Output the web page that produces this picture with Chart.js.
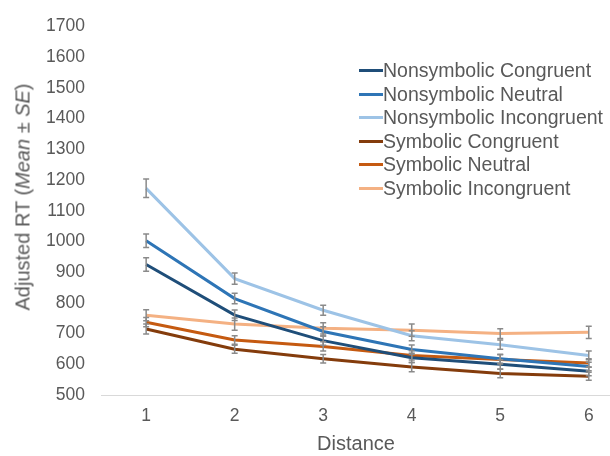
<!DOCTYPE html>
<html>
<head>
<meta charset="utf-8">
<script src="https://cdn.jsdelivr.net/npm/chart.js@4.4.1/dist/chart.umd.min.js"></script>
<style>
  body { margin: 0; background: #fff; font-family: "Liberation Sans", Arial, sans-serif; }
  #wrap { position: relative; width: 610px; height: 456px; }
  #ytitle {
    position: absolute; left: 23px; top: 197px;
    transform: translate(-50%, -50%) rotate(-90deg);
    white-space: nowrap; font-size: 20px; color: #595959;
  }
  #xtitle {
    position: absolute; left: 356px; top: 443px;
    transform: translate(-50%, -50%);
    white-space: nowrap; font-size: 20px; color: #595959;
  }
  #legend { position: absolute; left: 359px; top: 59px; font-size: 19.5px; color: #595959; }
  #legend div { display: flex; align-items: center; height: 23.5px; white-space: nowrap; }
  #legend span.sw { display: inline-block; width: 24px; height: 3px; margin-right: 0; }
</style>
</head>
<body>
<div id="wrap">
  <canvas id="rtChart" width="610" height="456"></canvas>
  <div id="ytitle">Adjusted RT (<i>Mean</i> ± <i>SE</i>)</div>
  <div id="xtitle">Distance</div>
  <div id="legend"></div>
</div>
<script>
// distance levels
const distances = [1, 2, 3, 4, 5, 6];

// means
const nonsymCongruent   = [925, 760, 677, 621, 600, 577];
const nonsymNeutral     = [1002, 814, 707, 648, 618, 593];
const nonsymIncongruent = [1173, 879, 776, 693, 664, 629];
const symCongruent      = [715, 649, 618, 591, 570, 561];
const symNeutral        = [737, 679, 658, 629, 616, 604];
const symIncongruent    = [760, 731, 717, 711, 700, 704];

// standard errors
const nonsymCongruentSE   = [22, 17, 15, 15, 15, 14];
const nonsymNeutralSE     = [22, 17, 15, 15, 15, 14];
const nonsymIncongruentSE = [30, 18, 16, 16, 15, 14];
const symCongruentSE      = [16, 13, 14, 15, 14, 13];
const symNeutralSE        = [15, 14, 15, 15, 15, 14];
const symIncongruentSE    = [18, 20, 18, 20, 16, 20];

const yTicks = [500, 600, 700, 800, 900, 1000, 1100, 1200, 1300, 1400, 1500, 1600, 1700];

const series = [
  { label: 'Nonsymbolic Congruent',   data: nonsymCongruent,   se: nonsymCongruentSE,   color: '#1f4e79' },
  { label: 'Nonsymbolic Neutral',     data: nonsymNeutral,     se: nonsymNeutralSE,     color: '#2e75b6' },
  { label: 'Nonsymbolic Incongruent', data: nonsymIncongruent, se: nonsymIncongruentSE, color: '#9dc3e6' },
  { label: 'Symbolic Congruent',      data: symCongruent,      se: symCongruentSE,      color: '#843c0c' },
  { label: 'Symbolic Neutral',        data: symNeutral,        se: symNeutralSE,        color: '#c55a11' },
  { label: 'Symbolic Incongruent',    data: symIncongruent,    se: symIncongruentSE,    color: '#f4b183' }
];

// error bars drawn from the scales
const errorBars = {
  id: 'errorBars',
  afterDatasetsDraw(chart) {
    const ctx = chart.ctx;
    const x = chart.scales.x, y = chart.scales.y;
    ctx.save();
    ctx.strokeStyle = '#8a8a8a';
    ctx.lineWidth = 1.5;
    series.forEach(s => {
      s.data.forEach((v, i) => {
        const px = x.getPixelForValue(distances[i]);
        const top = y.getPixelForValue(v + s.se[i]);
        const bot = y.getPixelForValue(v - s.se[i]);
        ctx.beginPath();
        ctx.moveTo(px, top); ctx.lineTo(px, bot);
        ctx.moveTo(px - 3, top); ctx.lineTo(px + 3, top);
        ctx.moveTo(px - 3, bot); ctx.lineTo(px + 3, bot);
        ctx.stroke();
      });
    });
    ctx.restore();
  }
};

new Chart(document.getElementById('rtChart'), {
  type: 'line',
  data: {
    datasets: series.map(s => ({
      label: s.label,
      data: s.data.map((v, i) => ({ x: distances[i], y: v })),
      borderColor: s.color,
      backgroundColor: s.color,
      borderWidth: 3,
      pointRadius: 0,
      tension: 0
    }))
  },
  options: {
    responsive: false,
    animation: false,
    layout: { padding: { top: 22, right: 0, bottom: 0, left: 0 } },
    plugins: { legend: { display: false }, tooltip: { enabled: false } },
    scales: {
      x: {
        type: 'linear',
        min: 0.49,
        max: 6.24,
        afterBuildTicks: s => { s.ticks = distances.map(v => ({ value: v })); },
        afterFit: s => { s.height = 61; },
        grid: { display: false, drawTicks: false },
        border: { display: true, color: '#d9d9d9', width: 1 },
        ticks: { font: { family: 'Liberation Sans', size: 17.5 }, color: '#595959', padding: 11, maxRotation: 0,
                 callback: v => String(v) }
      },
      y: {
        min: 500,
        max: 1700,
        afterBuildTicks: s => { s.ticks = yTicks.map(v => ({ value: v })); },
        afterFit: s => { s.width = 101; },
        grid: { display: false, drawTicks: false },
        border: { display: false },
        ticks: { font: { family: 'Liberation Sans', size: 17.5 }, color: '#595959', padding: 16,
                 callback: v => String(v) }
      }
    }
  },
  plugins: [errorBars]
});

// legend
const leg = document.getElementById('legend');
series.forEach(s => {
  const row = document.createElement('div');
  row.innerHTML = '<span class="sw" style="background:' + s.color + '"></span>' + s.label;
  leg.appendChild(row);
});
</script>
</body>
</html>
